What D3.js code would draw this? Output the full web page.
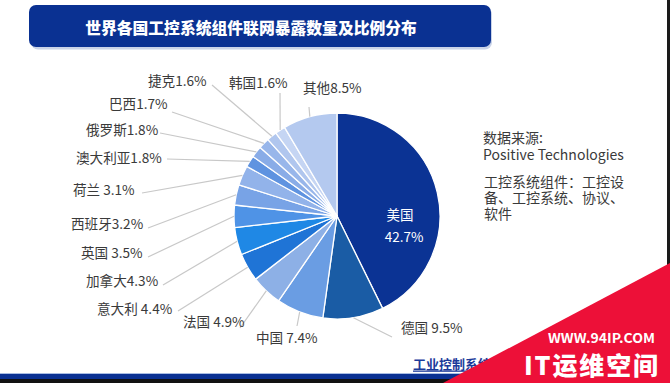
<!DOCTYPE html>
<html><head><meta charset="utf-8">
<script src="https://cdn.jsdelivr.net/npm/d3@7"></script>
<style>
html,body{margin:0;padding:0;background:#fff;}
svg{display:block;}
text{font-family:"Noto Sans CJK SC","Noto Sans",sans-serif;}
</style></head>
<body>
<svg id="chart" width="670" height="383"></svg>
<script>
// ---- data ----
const categories = ['美国','德国','中国','法国','意大利','加拿大','英国','西班牙','荷兰','澳大利亚','俄罗斯','巴西','捷克','韩国','其他'];
const shares = [42.7, 9.5, 7.4, 4.9, 4.4, 4.3, 3.5, 3.2, 3.1, 1.8, 1.8, 1.7, 1.6, 1.6, 8.5];
const sliceColors = ['#0b3394','#1a5ca5','#6a9de3','#8db0e6','#1f74d6','#1f88e5','#4f93e6','#78a3e6','#92b3ea','#5f93e0','#89ace7','#98b6ea','#b0c6ee','#c5d5f3','#b4c9ef'];
const labelSpaced = [false,true,true,true,true,false,true,false,true,false,false,false,false,false,false];
const titleText = '世界各国工控系统组件联网暴露数量及比例分布';
const noteLines = ['数据来源:','Positive Technologies'];
const noteLines2 = ['工控系统组件：工控设','备、工控系统、协议、','软件'];

// ---- layout (label text anchor: left x, center y; leader start) ----
const labelLayout = [
  null,
  {x:401,y:327,lx:392,ly:337},
  {x:256,y:337,lx:297,ly:326},
  {x:183,y:321,lx:240,ly:328},
  {x:97,y:308,lx:178,ly:311},
  {x:86,y:280,lx:163,ly:285},
  {x:81,y:252,lx:148,ly:257},
  {x:71,y:223,lx:148,ly:228},
  {x:73,y:189,lx:142,ly:193},
  {x:76,y:157,lx:167,ly:159},
  {x:86,y:129,lx:160,ly:133},
  {x:109,y:103,lx:172,ly:112},
  {x:148,y:80,lx:212,ly:85},
  {x:229,y:82,lx:280,ly:93},
  {x:303,y:87,lx:309,ly:107}
];

const svg = d3.select('#chart');
const W = 670, H = 383;

// title box
svg.append('rect').attr('x',30).attr('y',6).attr('width',461).attr('height',42)
  .attr('rx',7).attr('fill','#c9d3e8').attr('transform','translate(1,1.5)');
svg.append('rect').attr('x',29).attr('y',5).attr('width',462).attr('height',42)
  .attr('rx',7).attr('fill','#0a3192');
svg.append('text').attr('x',251).attr('y',27).attr('text-anchor','middle')
  .attr('dominant-baseline','central').attr('fill','#fff')
  .attr('font-size',15.8).attr('font-weight',900).text(titleText);

// pie
const cx = 337, cy = 216, R = 103;
const pie = d3.pie().sort(null).value(d => d)(shares);
const arc = d3.arc().innerRadius(0).outerRadius(R);
const edge = d3.arc().innerRadius(R).outerRadius(R);
const g = svg.append('g').attr('transform',`translate(${cx},${cy})`);

// leader lines
pie.forEach((p,i) => {
  const L = labelLayout[i];
  if (!L) return;
  const [ex,ey] = edge.centroid(p);
  svg.append('line').attr('x1',L.lx).attr('y1',L.ly).attr('x2',cx+ex).attr('y2',cy+ey)
    .attr('stroke','#c8c8c8').attr('stroke-width',1.2);
});

g.selectAll('path').data(pie).join('path')
  .attr('d',arc).attr('fill',(d,i)=>sliceColors[i])
  .attr('stroke','#fff').attr('stroke-width',1.3).attr('stroke-linejoin','round');

// outside labels
pie.forEach((p,i) => {
  const L = labelLayout[i];
  if (!L) return;
  svg.append('text').attr('x',L.x).attr('y',L.y).attr('dominant-baseline','central')
    .attr('fill','#3a3a3a').attr('font-size',13.6)
    .text(categories[i] + (labelSpaced[i] ? ' ' : '') + shares[i].toFixed(1) + '%');
});

// inside label for the largest slice
svg.append('text').attr('x',400).attr('y',214).attr('text-anchor','middle').attr('dominant-baseline','central')
  .attr('fill','#fff').attr('font-size',13.5).text(categories[0]);
svg.append('text').attr('x',404).attr('y',236).attr('text-anchor','middle').attr('dominant-baseline','central')
  .attr('fill','#fff').attr('font-size',13.5).text(shares[0].toFixed(1)+'%');

// note text
const n1 = svg.append('text').attr('fill','#3a3a3a').attr('font-size',14);
noteLines.forEach((t,i)=>{
  n1.append('tspan').attr('x',483).attr('y',143+i*17).text(t);
});
const n2 = svg.append('text').attr('fill','#3a3a3a').attr('font-size',14);
noteLines2.forEach((t,i)=>{
  n2.append('tspan').attr('x',484).attr('y',187+i*16).text(t);
});

// bottom footer link
svg.append('text').attr('x',413).attr('y',363).attr('dominant-baseline','central')
  .attr('fill','#1b3a9a').attr('font-size',13).attr('font-weight',700).attr('text-decoration','underline')
  .text('工业控制系统信息安全');

// bottom band
svg.append('rect').attr('x',0).attr('y',373).attr('width',W).attr('height',1).attr('fill','#a9bde3');
svg.append('rect').attr('x',0).attr('y',374).attr('width',W).attr('height',5).attr('fill','#0a3192');
svg.append('rect').attr('x',0).attr('y',379).attr('width',W).attr('height',4).attr('fill','#111');
// right border
svg.append('rect').attr('x',667).attr('y',0).attr('width',3).attr('height',H).attr('fill','#1a1a1a');

// watermark triangle
svg.append('path').attr('d',`M443,${H} L${W},263 L${W},${H} Z`).attr('fill','#ed1038');
svg.append('text').attr('x',548).attr('y',337).attr('dominant-baseline','central')
  .attr('fill','#fff').attr('font-family','"Liberation Serif",serif').attr('font-weight',700)
  .attr('font-size',13.5).attr('textLength',107).attr('lengthAdjust','spacingAndGlyphs').text('WWW.94IP.COM');
svg.append('text').attr('x',524).attr('y',364).attr('dominant-baseline','central')
  .attr('fill','#fff').attr('font-weight',900)
  .attr('font-size',25).attr('textLength',134).attr('lengthAdjust','spacing').text('IT运维空间');
</script>
</body></html>
